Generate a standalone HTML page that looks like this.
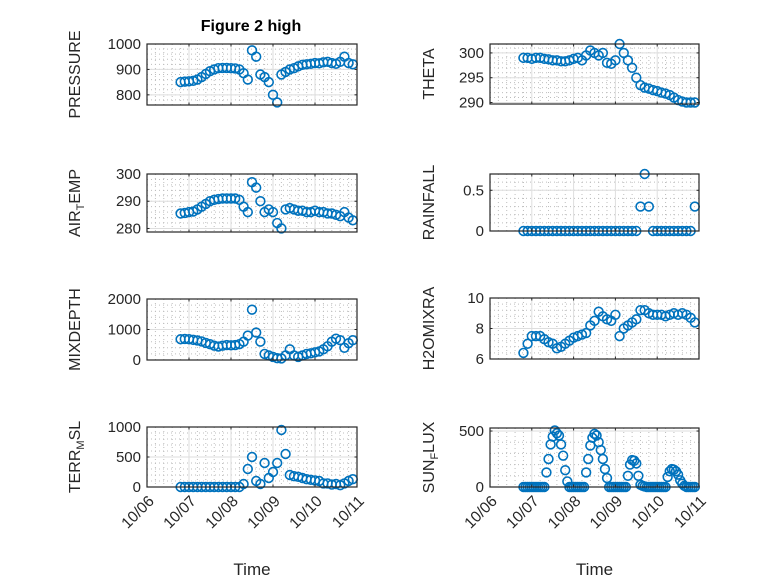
<!DOCTYPE html>
<html><head><meta charset="utf-8"><style>
body{margin:0;background:#fff;}
svg{display:block;font-family:"Liberation Sans","DejaVu Sans",sans-serif;}
</style></head><body>
<svg id="fig" width="778" height="583" viewBox="0 0 778 583" xmlns="http://www.w3.org/2000/svg">
<rect width="778" height="583" fill="#fff"/>
<text x="251" y="31" text-anchor="middle" font-size="16" font-weight="bold" fill="#000">Figure 2 high</text>
</svg>
<script>
const timeStart = 0.8;
const timeStep = 0.1;
const sunTimeStep = 0.05;
const xTickLabels = ["10/06","10/07","10/08","10/09","10/10","10/11"];
const pressure = [850,852,853,855,860,870,882,893,900,905,906,906,905,904,900,885,860,975,950,880,870,850,800,770,880,890,900,905,912,918,920,922,925,924,928,930,925,922,930,950,925,920];
const theta = [299,299,298.8,299,299,298.8,298.7,298.5,298.5,298.3,298.3,298.5,298.8,299,298.5,299.5,300.5,300,299.5,300,298,297.8,298.5,301.8,300,298.5,297,295,293.5,293,292.8,292.5,292.3,292,291.8,291.5,291,290.5,290.2,290,290,290];
const airTemp = [285.5,285.7,286,286.2,287,288,289,290,290.5,290.8,291,291,291,291,290.5,288,286,297,295,290,286,287,286,282,280,287,287.5,287,286.5,286.5,286,286,286.5,286,286,285.5,285.5,285,284.5,286,284,283];
const rainfall = [0,0,0,0,0,0,0,0,0,0,0,0,0,0,0,0,0,0,0,0,0,0,0,0,0,0,0,0,0.3,0.7,0.3,0,0,0,0,0,0,0,0,0,0,0.3];
const mixDepth = [680,690,680,660,640,610,560,520,470,440,470,490,480,490,520,600,800,1650,900,600,200,150,100,60,50,150,350,150,100,150,200,220,250,280,350,450,600,700,650,400,550,650];
const h2oMixRa = [6.4,7.0,7.5,7.5,7.5,7.3,7.1,7.0,6.7,6.8,7.0,7.2,7.4,7.5,7.6,7.7,8.2,8.5,9.1,8.8,8.6,8.5,8.9,7.5,8.0,8.2,8.4,8.6,9.2,9.2,9.0,8.9,8.9,8.9,8.8,8.9,9.0,8.9,9.0,8.9,8.7,8.4];
const terrMsl = [0,0,0,0,0,0,0,0,0,0,0,0,0,0,0,50,300,500,100,50,400,150,250,400,950,550,200,180,170,150,130,120,110,100,60,60,40,50,30,60,100,130];
const sunFlux = [0,0,0,0,0,0,0,0,0,0,0,130,250,380,450,505,480,460,380,280,150,50,0,0,0,0,0,0,0,0,130,250,370,440,475,460,400,330,250,160,80,0,0,0,0,0,0,0,0,0,100,200,240,235,210,100,20,10,5,0,0,0,0,0,0,0,0,0,0,90,140,160,155,140,110,60,30,10,0,0,0,0,0];

const NS="http://www.w3.org/2000/svg";
const svg=document.getElementById('fig');
function mk(tag,attrs,parent){const e=document.createElementNS(NS,tag);for(const k in attrs)e.setAttribute(k,attrs[k]);(parent||svg).appendChild(e);return e;}

const panels=[
 {name:'pressure',title:['PRESSURE'],data:pressure,step:timeStep,x0:147,x1:357,y0:44,y1:105,ymin:760,ymax:1000,ticks:[800,900,1000],labels:['800','900','1000'],tx:80,bottom:false},
 {name:'theta',title:['THETA'],data:theta,step:timeStep,x0:490,x1:699,y0:44,y1:104,ymin:289.7,ymax:301.8,ticks:[290,295,300],labels:['290','295','300'],tx:434,bottom:false},
 {name:'air-temp',title:['AIR','T','EMP'],data:airTemp,step:timeStep,x0:147,x1:357,y0:174,y1:232,ymin:278.7,ymax:300,ticks:[280,290,300],labels:['280','290','300'],tx:80,bottom:false},
 {name:'rainfall',title:['RAINFALL'],data:rainfall,step:timeStep,x0:490,x1:699,y0:174,y1:231,ymin:0,ymax:0.7,ticks:[0,0.5],labels:['0','0.5'],tx:434,bottom:false},
 {name:'mixdepth',title:['MIXDEPTH'],data:mixDepth,step:timeStep,x0:147,x1:357,y0:299,y1:360,ymin:0,ymax:2000,ticks:[0,1000,2000],labels:['0','1000','2000'],tx:80,bottom:false},
 {name:'h2omixra',title:['H2OMIXRA'],data:h2oMixRa,step:timeStep,x0:490,x1:699,y0:298,y1:359,ymin:6,ymax:10,ticks:[6,8,10],labels:['6','8','10'],tx:434,bottom:false},
 {name:'terr-msl',title:['TERR','M','SL'],data:terrMsl,step:timeStep,x0:147,x1:357,y0:427,y1:487,ymin:0,ymax:1000,ticks:[0,500,1000],labels:['0','500','1000'],tx:80,bottom:true},
 {name:'sun-flux',title:['SUN','F','LUX'],data:sunFlux,step:sunTimeStep,x0:490,x1:699,y0:428,y1:487,ymin:0,ymax:527,ticks:[0,500],labels:['0','500'],tx:434,bottom:true}
];

panels.forEach(p=>{
 const g=mk('g',{});
 
 
 const xs=t=>p.x0+(p.x1-p.x0)*t/5;
 const ys=v=>p.y1-(p.y1-p.y0)*(v-p.ymin)/(p.ymax-p.ymin);
 for(let d=0;d<5;d++)for(let k=1;k<5;k++){const x=xs(d+k/5);mk('line',{x1:x,x2:x,y1:p.y0,y2:p.y1,stroke:'#bdbdbd','stroke-width':1,'stroke-dasharray':'1 3'},g);}
 const tstep=p.ticks[1]-p.ticks[0];
 for(let v=p.ticks[0]-tstep;v<=p.ymax;v+=tstep/5){if(v>p.ymin&&v<p.ymax){const y=ys(v);mk('line',{x1:p.x0,x2:p.x1,y1:y,y2:y,stroke:'#bdbdbd','stroke-width':1,'stroke-dasharray':'1 3'},g);}}
 for(let d=1;d<5;d++){const x=xs(d);mk('line',{x1:x,x2:x,y1:p.y0,y2:p.y1,stroke:'#dedede','stroke-width':1},g);}
 p.ticks.forEach(v=>{const y=ys(v);if(y>p.y0+1&&y<p.y1-1)mk('line',{x1:p.x0,x2:p.x1,y1:y,y2:y,stroke:'#dedede','stroke-width':1},g);});
 const step=p.step;
 p.data.forEach((v,i)=>{
  const c=mk('circle',{cx:xs(timeStart+i*step),cy:ys(v),r:4.4,fill:'none',stroke:'#0072BD','stroke-width':1.6},g);
  
  
 });
 mk('rect',{x:p.x0,y:p.y0,width:p.x1-p.x0,height:p.y1-p.y0,fill:'none',stroke:'#262626','stroke-width':1.2},g);
 for(let d=0;d<=5;d++){const x=xs(d);mk('line',{x1:x,x2:x,y1:p.y1,y2:p.y1-2.5,stroke:'#262626'},g);mk('line',{x1:x,x2:x,y1:p.y0,y2:p.y0+2.5,stroke:'#262626'},g);}
 p.ticks.forEach((v,i)=>{const y=ys(v);
  mk('line',{x1:p.x0,x2:p.x0+2.5,y1:y,y2:y,stroke:'#262626'},g);
  mk('line',{x1:p.x1,x2:p.x1-2.5,y1:y,y2:y,stroke:'#262626'},g);
  const t=mk('text',{x:p.x0-6,y:y+5,'text-anchor':'end','font-size':15,fill:'#262626'},g);
  t.textContent=p.labels[i];
  
  
 });
 const cy=(p.y0+p.y1)/2;
 const tt=mk('text',{x:p.tx,y:cy,'text-anchor':'middle','font-size':16,fill:'#262626',transform:`rotate(-90 ${p.tx} ${cy})`},g);
 
 
 const s1=mk('tspan',{},tt);s1.textContent=p.title[0];
 if(p.title.length>1){const s2=mk('tspan',{'font-size':11,dy:4},tt);s2.textContent=p.title[1];const s3=mk('tspan',{dy:-4},tt);s3.textContent=p.title[2];}
 if(p.bottom){
  xTickLabels.forEach((lab,d)=>{const x=xs(d)+8,y=p.y1+15;
   const t=mk('text',{x:x,y:y,'text-anchor':'end','font-size':15.5,fill:'#262626',transform:`rotate(-45 ${x} ${y})`},g);
   t.textContent=lab;
   
   
  });
  const xl=mk('text',{x:(p.x0+p.x1)/2,y:575,'text-anchor':'middle','font-size':17,fill:'#262626'},g);
  xl.textContent='Time';
  
  
 }
});
</script>
</body></html>
